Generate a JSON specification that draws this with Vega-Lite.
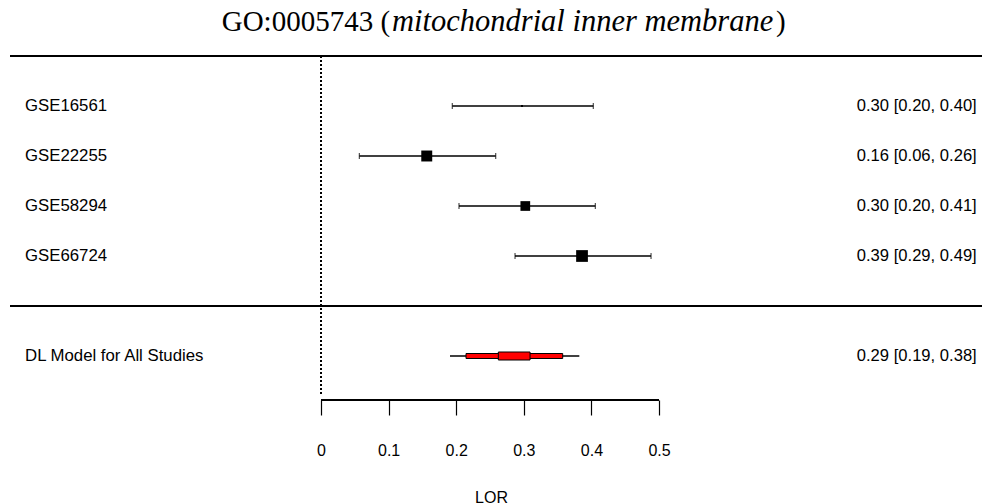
{
  "$schema": "https://vega.github.io/schema/vega-lite/v6.json",
  "width": 982,
  "height": 400,
  "autosize": {"type": "none"},
  "padding": {"left": 0, "top": 0, "right": 0, "bottom": 104},
  "background": "white",
  "config": {
    "view": {"stroke": null},
    "scale": {"continuousPadding": 0},
    "axisX": {
      "domain": false, "grid": false, "ticks": true,
      "tickColor": "black", "tickWidth": 1.2, "tickSize": 15,
      "labelFont": "Liberation Sans", "labelFontSize": 16, "labelColor": "black",
      "labelPadding": 27, "labelFlush": false, "labelOverlap": false,
      "titleFont": "Liberation Sans", "titleFontSize": 16, "titleFontWeight": "normal",
      "titleColor": "black", "titlePadding": 31
    }
  },
  "datasets": {
    "forest": [
      {"study": "GSE16561", "row": 5, "type": "study", "est": 0.2973, "lo": 0.1942, "hi": 0.4028, "weight": 5.9, "label": "0.30 [0.20, 0.40]"},
      {"study": "GSE22255", "row": 4, "type": "study", "est": 0.1564, "lo": 0.0567, "hi": 0.2584, "weight": 31.8, "label": "0.16 [0.06, 0.26]"},
      {"study": "GSE58294", "row": 3, "type": "study", "est": 0.3022, "lo": 0.2041, "hi": 0.4058, "weight": 28.2, "label": "0.30 [0.20, 0.41]"},
      {"study": "GSE66724", "row": 2, "type": "study", "est": 0.3861, "lo": 0.2870, "hi": 0.4882, "weight": 34.1, "label": "0.39 [0.29, 0.49]"},
      {"study": "DL Model for All Studies", "row": 0, "type": "summary", "est": 0.2857, "lo": 0.1908, "hi": 0.3821, "pi_lo": 0.2145, "pi_hi": 0.3575, "core_lo": 0.2623, "core_hi": 0.3092, "label": "0.29 [0.19, 0.38]"}
    ],
    "title": [
      {"piece": "GO:0005743 (", "part": "a"},
      {"piece": "mitochondrial inner membrane", "part": "b"},
      {"piece": ")", "part": "c"}
    ]
  },
  "data": {"name": "forest"},
  "layer": [
    {
      "mark": {"type": "rule", "color": "black", "strokeWidth": 1.3},
      "encoding": {
        "x": {"datum": -0.46, "type": "quantitative", "title": "LOR",
              "scale": {"domain": [-0.4749, 0.9778], "nice": false, "zero": false, "padding": 0},
              "axis": {"values": [0, 0.1, 0.2, 0.3, 0.4, 0.5], "format": ".1~f", "title": "LOR"}},
        "x2": {"datum": 0.9778},
        "y": {"datum": 6, "type": "quantitative", "axis": null,
              "scale": {"domain": [-0.88, 7.12], "nice": false, "zero": false, "padding": 0}}
      }
    },
    {
      "mark": {"type": "rule", "color": "black", "strokeWidth": 1.3},
      "encoding": {
        "x": {"datum": -0.46, "type": "quantitative", "title": "LOR"},
        "x2": {"datum": 0.9778},
        "y": {"datum": 1, "type": "quantitative", "axis": null}
      }
    },
    {
      "mark": {"type": "rule", "color": "black", "strokeWidth": 1.3, "strokeDash": [2, 2]},
      "encoding": {
        "x": {"datum": 0, "type": "quantitative", "title": "LOR"},
        "y": {"datum": 6, "type": "quantitative", "axis": null},
        "y2": {"datum": -0.78}
      }
    },
    {
      "mark": {"type": "rule", "color": "black", "strokeWidth": 1.3},
      "encoding": {
        "x": {"datum": 0, "type": "quantitative", "title": "LOR"},
        "x2": {"datum": 0.5},
        "y": {"datum": -0.88, "type": "quantitative", "axis": null}
      }
    },
    {
      "transform": [{"filter": "datum.type === 'study'"}],
      "mark": {"type": "rule", "color": "black", "strokeWidth": 1.3},
      "encoding": {
        "x": {"field": "lo", "type": "quantitative", "title": "LOR"},
        "x2": {"field": "hi"},
        "y": {"field": "row", "type": "quantitative", "axis": null}
      }
    },
    {
      "transform": [{"filter": "datum.type === 'study'"}],
      "mark": {"type": "tick", "orient": "vertical", "color": "black", "size": 6, "thickness": 1.2},
      "encoding": {
        "x": {"field": "lo", "type": "quantitative", "title": "LOR"},
        "y": {"field": "row", "type": "quantitative", "axis": null}
      }
    },
    {
      "transform": [{"filter": "datum.type === 'study'"}],
      "mark": {"type": "tick", "orient": "vertical", "color": "black", "size": 6, "thickness": 1.2},
      "encoding": {
        "x": {"field": "hi", "type": "quantitative", "title": "LOR"},
        "y": {"field": "row", "type": "quantitative", "axis": null}
      }
    },
    {
      "transform": [{"filter": "datum.type === 'study'"}],
      "mark": {"type": "point", "shape": "square", "filled": true, "color": "black", "opacity": 1},
      "encoding": {
        "x": {"field": "est", "type": "quantitative", "title": "LOR"},
        "y": {"field": "row", "type": "quantitative", "axis": null},
        "size": {"field": "weight", "type": "quantitative", "legend": null,
                 "scale": {"type": "pow", "exponent": 2, "domain": [0, 34.1], "range": [0, 138]}}
      }
    },
    {
      "transform": [{"filter": "datum.type === 'summary'"}],
      "mark": {"type": "rule", "color": "black", "strokeWidth": 1.4},
      "encoding": {
        "x": {"field": "lo", "type": "quantitative", "title": "LOR"},
        "x2": {"field": "hi"},
        "y": {"field": "row", "type": "quantitative", "axis": null}
      }
    },
    {
      "transform": [{"filter": "datum.type === 'summary'"}],
      "mark": {"type": "bar", "size": 5, "fill": "#ff0000", "stroke": "black", "strokeWidth": 1},
      "encoding": {
        "x": {"field": "pi_lo", "type": "quantitative", "title": "LOR"},
        "x2": {"field": "pi_hi"},
        "y": {"field": "row", "type": "quantitative", "axis": null}
      }
    },
    {
      "transform": [{"filter": "datum.type === 'summary'"}],
      "mark": {"type": "bar", "size": 8, "fill": "#ff0000", "stroke": "black", "strokeWidth": 1},
      "encoding": {
        "x": {"field": "core_lo", "type": "quantitative", "title": "LOR"},
        "x2": {"field": "core_hi"},
        "y": {"field": "row", "type": "quantitative", "axis": null}
      }
    },
    {
      "mark": {"type": "text", "align": "left", "baseline": "middle", "font": "Liberation Sans", "fontSize": 16.8, "color": "black"},
      "encoding": {
        "x": {"datum": -0.4379, "type": "quantitative", "title": "LOR"},
        "y": {"field": "row", "type": "quantitative", "axis": null},
        "text": {"field": "study"}
      }
    },
    {
      "mark": {"type": "text", "align": "right", "baseline": "middle", "font": "Liberation Sans", "fontSize": 16.6, "color": "black"},
      "encoding": {
        "x": {"datum": 0.970, "type": "quantitative", "title": "LOR"},
        "y": {"field": "row", "type": "quantitative", "axis": null},
        "text": {"field": "label"}
      }
    },
    {
      "data": {"name": "title"},
      "transform": [{"filter": "datum.part === 'a'"}],
      "mark": {"type": "text", "align": "right", "baseline": "alphabetic", "font": "Liberation Serif", "fontSize": 29, "color": "black"},
      "encoding": {
        "x": {"datum": 0.1021, "type": "quantitative", "title": "LOR"},
        "y": {"datum": 6.5, "type": "quantitative", "axis": null},
        "text": {"field": "piece"}
      }
    },
    {
      "data": {"name": "title"},
      "transform": [{"filter": "datum.part === 'b'"}],
      "mark": {"type": "text", "align": "left", "baseline": "alphabetic", "font": "Liberation Serif", "fontStyle": "italic", "fontSize": 30.5, "color": "black"},
      "encoding": {
        "x": {"datum": 0.1050, "type": "quantitative", "title": "LOR"},
        "y": {"datum": 6.5, "type": "quantitative", "axis": null},
        "text": {"field": "piece"}
      }
    },
    {
      "data": {"name": "title"},
      "transform": [{"filter": "datum.part === 'c'"}],
      "mark": {"type": "text", "align": "left", "baseline": "alphabetic", "font": "Liberation Serif", "fontSize": 29, "color": "black"},
      "encoding": {
        "x": {"datum": 0.6731, "type": "quantitative", "title": "LOR"},
        "y": {"datum": 6.5, "type": "quantitative", "axis": null},
        "text": {"field": "piece"}
      }
    }
  ]
}
